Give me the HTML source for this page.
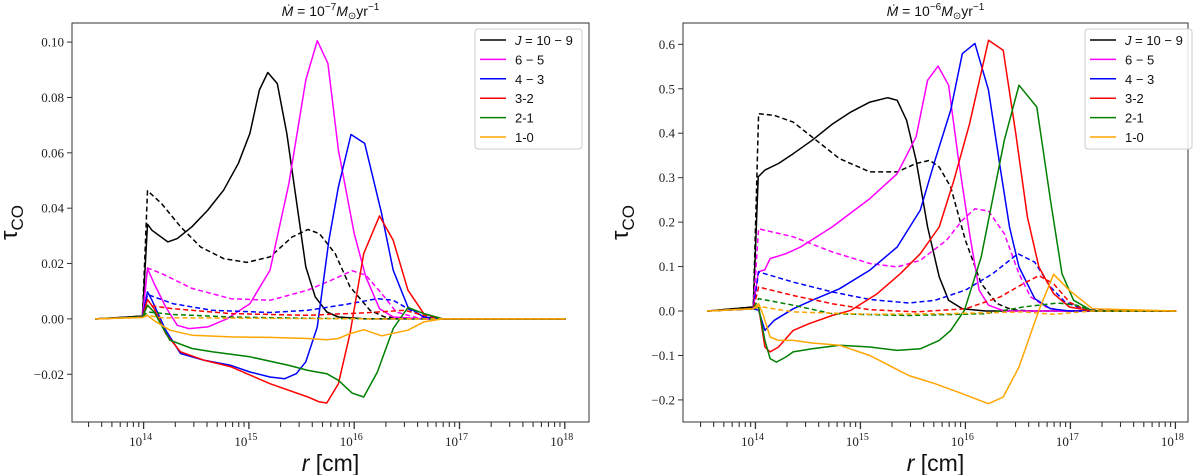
<!DOCTYPE html>
<html><head><meta charset="utf-8"><style>
html,body{margin:0;padding:0;background:#fff;}
svg{display:block;font-family:"Liberation Serif",serif;}
</style></head><body>
<svg id="fig" width="1200" height="475" viewBox="0 0 1200 475" xmlns="http://www.w3.org/2000/svg"></svg>
<script>
const seriesNames = ["J = 10-9","6-5","4-3","3-2","2-1","1-0"];
const colors = ["#000000","#ff00ff","#0000ff","#ff0000","#008000","#ffa500"];

const aBlackLogR = [13.54,13.99,14.037,14.08,14.23,14.32,14.46,14.61,14.76,14.90,15.01,15.10,15.18,15.27,15.36,15.45,15.54,15.63,15.74,15.85,16.11,18.01];
const aBlackTau  = [0,0.001,0.0342,0.032,0.0278,0.029,0.0333,0.0393,0.0465,0.0562,0.067,0.0827,0.089,0.085,0.067,0.0429,0.0188,0.008,0.0025,0.0007,0,0];
const aBlackDLogR = [13.54,13.99,14.037,14.17,14.35,14.54,14.76,14.98,15.20,15.41,15.56,15.67,15.82,15.96,16.15,16.29,16.66,18.01];
const aBlackDTau  = [0,0.001,0.0463,0.0417,0.0333,0.026,0.0218,0.0204,0.0224,0.0296,0.0323,0.0308,0.0236,0.0116,0.0031,0.0007,0,0];
const aMagLogR = [13.54,13.99,14.037,14.10,14.21,14.32,14.43,14.61,14.79,15.01,15.20,15.38,15.54,15.65,15.75,15.85,16.0,16.11,16.24,16.37,16.66,18.01];
const aMagTau  = [0,0.0007,0.0182,0.0128,0.0043,-0.0023,-0.0035,-0.0029,0,0.0055,0.0176,0.0489,0.0863,0.1005,0.0923,0.061,0.0308,0.0152,0.0037,0.0007,0,0];
const aMagDLogR = [13.54,13.99,14.037,14.17,14.46,14.83,15.20,15.56,15.82,15.98,16.11,16.26,16.40,16.59,16.84,18.01];
const aMagDTau  = [0,0.0007,0.0184,0.0164,0.011,0.0073,0.0067,0.0104,0.0146,0.0174,0.0158,0.0092,0.0025,0.0005,0,0];
const aBlueLogR = [13.54,13.99,14.037,14.08,14.21,14.35,14.57,14.83,15.01,15.20,15.34,15.45,15.54,15.65,15.76,15.85,15.97,16.10,16.26,16.37,16.51,16.66,16.84,18.01];
const aBlueTau  = [0,0.0007,0.0098,0.0067,-0.0041,-0.0125,-0.0149,-0.0168,-0.0192,-0.021,-0.0216,-0.0198,-0.0155,-0.0029,0.0284,0.0477,0.0666,0.0634,0.0381,0.0176,0.0043,0.0007,0,0];
const aBlueDLogR = [13.54,13.99,14.037,14.28,14.65,15.20,15.56,15.93,16.22,16.37,16.51,16.66,16.84,18.01];
const aBlueDTau  = [0,0.0007,0.0088,0.0055,0.0031,0.0023,0.0031,0.0053,0.0073,0.0067,0.0037,0.0007,0,0];
const aRedLogR = [13.54,13.99,14.037,14.10,14.21,14.35,14.57,14.83,15.20,15.56,15.67,15.74,15.85,15.96,16.09,16.24,16.37,16.51,16.66,16.84,18.01];
const aRedTau  = [0,0.0007,0.007,0.0037,-0.0053,-0.0119,-0.0149,-0.0173,-0.0234,-0.0282,-0.030,-0.0304,-0.0234,-0.0053,0.0236,0.0372,0.0284,0.0104,0.0019,0,0];
const aRedDLogR = [13.54,13.99,14.037,14.28,14.83,15.56,16.11,16.48,16.66,16.84,18.01];
const aRedDTau  = [0,0.0007,0.0049,0.0037,0.0019,0.0013,0.0022,0.0031,0.0013,0,0];
const aGreenLogR = [13.54,13.99,14.037,14.10,14.25,14.46,14.65,15.01,15.38,15.56,15.74,15.85,15.98,16.09,16.22,16.37,16.51,16.66,16.84,18.01];
const aGreenTau  = [0,0.0007,0.0049,0.0025,-0.0077,-0.0107,-0.0119,-0.0137,-0.0168,-0.0186,-0.0198,-0.0222,-0.0268,-0.0282,-0.0192,-0.0035,0.0041,0.0019,0,0];
const aGreenDLogR = [13.54,13.99,14.037,14.28,14.83,15.56,16.29,18.01];
const aGreenDTau  = [0,0.0007,0.0025,0.0016,0.0007,0.0002,0,0];
const aOrangeLogR = [13.54,13.99,14.037,14.10,14.25,14.46,14.83,15.20,15.56,15.74,15.85,15.96,16.09,16.26,16.51,16.66,16.84,18.01];
const aOrangeTau  = [0,0.0005,0.0013,-0.0006,-0.0041,-0.0059,-0.0065,-0.0067,-0.0071,-0.0075,-0.0071,-0.0053,-0.0039,-0.0061,-0.0041,-0.0011,0,0];
const aOrangeDLogR = [13.54,13.99,14.037,14.17,16.29,18.01];
const aOrangeDTau  = [0,0.0005,0.0013,0.0004,0,0];

const bBlackLogR = [13.54,13.98,14.026,14.09,14.22,14.36,14.54,14.73,14.91,15.09,15.26,15.35,15.44,15.53,15.64,15.75,15.84,15.97,16.19,18.01];
const bBlackTau  = [0,0.009,0.302,0.317,0.332,0.354,0.384,0.42,0.448,0.47,0.48,0.474,0.429,0.339,0.189,0.077,0.024,0.005,0,0];
const bBlackDLogR = [13.54,13.98,14.03,14.18,14.36,14.58,14.80,15.09,15.35,15.53,15.66,15.75,15.86,16.0,16.15,16.30,16.44,16.62,18.01];
const bBlackDTau  = [0,0.009,0.444,0.44,0.425,0.384,0.343,0.313,0.313,0.332,0.339,0.324,0.279,0.159,0.062,0.017,0.003,0,0];
const bMagLogR = [13.54,13.98,14.026,14.09,14.14,14.29,14.43,14.73,15.09,15.35,15.53,15.64,15.74,15.84,15.93,16.04,16.13,16.22,16.37,18.01];
const bMagTau  = [0,0.005,0.088,0.093,0.118,0.129,0.144,0.189,0.253,0.309,0.392,0.519,0.551,0.508,0.347,0.174,0.047,0.013,0,0];
const bMagDLogR = [13.54,13.98,14.03,14.36,14.73,15.09,15.35,15.57,15.82,15.97,16.09,16.22,16.37,16.51,16.62,16.77,16.92,18.01];
const bMagDTau  = [0,0.005,0.185,0.167,0.133,0.107,0.099,0.114,0.159,0.204,0.23,0.225,0.174,0.084,0.032,0.009,0,0];
const bBlueLogR = [13.54,13.98,14.03,14.09,14.18,14.36,14.54,14.80,15.09,15.35,15.57,15.71,15.86,15.97,16.09,16.22,16.33,16.42,16.51,16.66,16.81,16.99,18.01];
const bBlueTau  = [0,0.005,0.0015,-0.0435,-0.021,0.005,0.024,0.05,0.092,0.144,0.227,0.339,0.452,0.579,0.602,0.497,0.324,0.189,0.099,0.028,0.005,0,0];
const bBlueDLogR = [13.54,13.98,14.03,14.36,14.73,15.09,15.46,15.71,16.0,16.26,16.50,16.66,16.81,16.95,17.14,18.01];
const bBlueDTau  = [0,0.005,0.088,0.065,0.043,0.026,0.018,0.024,0.047,0.084,0.129,0.11,0.054,0.02,0.003,0];
const bRedLogR = [13.54,13.98,14.03,14.09,14.14,14.22,14.36,14.51,14.73,14.91,15.16,15.38,15.57,15.75,15.89,16.04,16.22,16.36,16.48,16.59,16.70,16.84,16.99,17.21,18.01];
const bRedTau  = [0,0.005,0.009,-0.081,-0.092,-0.081,-0.0435,-0.0285,-0.01,0.0015,0.039,0.084,0.129,0.189,0.294,0.4215,0.609,0.5865,0.399,0.2115,0.099,0.039,0.009,0,0];
const bRedDLogR = [13.54,13.98,14.03,14.36,14.73,15.09,15.53,16.0,16.33,16.55,16.70,16.84,16.99,17.17,18.01];
const bRedDTau  = [0,0.005,0.054,0.035,0.0165,0.003,-0.002,0.005,0.0315,0.0615,0.0795,0.0615,0.02,0,0];
const bGreenLogR = [13.54,13.98,14.03,14.09,14.14,14.20,14.29,14.36,14.54,14.80,15.09,15.35,15.57,15.75,15.86,15.99,16.15,16.37,16.51,16.68,16.81,16.92,17.03,17.21,18.01];
const bGreenTau  = [0,0.005,0.009,-0.066,-0.107,-0.115,-0.1035,-0.092,-0.085,-0.077,-0.081,-0.0885,-0.085,-0.066,-0.0435,0.0015,0.1215,0.384,0.508,0.459,0.249,0.084,0.024,0,0];
const bGreenDLogR = [13.54,13.98,14.03,14.36,14.73,15.46,16.19,16.55,16.88,17.06,17.21,18.01];
const bGreenDTau  = [0,0.005,0.028,0.013,-0.006,-0.01,-0.006,0.009,0.018,0.013,0,0];
const bOrangeLogR = [13.54,13.98,14.03,14.07,14.14,14.22,14.36,14.54,14.80,15.09,15.46,15.71,15.97,16.09,16.22,16.36,16.51,16.70,16.84,16.99,17.21,18.01];
const bOrangeTau  = [0,0.005,0.0165,-0.006,-0.0585,-0.066,-0.066,-0.072,-0.077,-0.1,-0.145,-0.1635,-0.186,-0.197,-0.2085,-0.1935,-0.126,0.0015,0.0825,0.0465,0.005,0];
const bOrangeDLogR = [13.54,13.98,14.03,14.36,15.09,15.82,16.55,16.84,17.10,17.21,18.01];
const bOrangeDTau  = [0,0.005,0.0105,-0.002,-0.0075,-0.006,-0.002,-0.0075,-0.002,0,0];

const aYTicks = [-0.02,0,0.02,0.04,0.06,0.08,0.10];
const aYLabels = ["\u22120.02","0.00","0.02","0.04","0.06","0.08","0.10"];
const bYTicks = [-0.2,-0.1,0,0.1,0.2,0.3,0.4,0.5,0.6];
const bYLabels = ["\u22120.2","\u22120.1","0.0","0.1","0.2","0.3","0.4","0.5","0.6"];
const xMajor = [14,15,16,17,18];

const NS = "http://www.w3.org/2000/svg";
const fig = document.getElementById('fig');
function mk(tag, attrs, parent){
  const e = document.createElementNS(NS, tag);
  for (const k in attrs) e.setAttribute(k, attrs[k]);
  (parent||fig).appendChild(e);
  return e;
}

function panel(p){
  const g = mk('g', {});
  
  
  const X = v => p.x0 + (v - p.xmin) / (p.xmax - p.xmin) * (p.x1 - p.x0);
  const Y = v => p.y1 - (v - p.ymin) / (p.ymax - p.ymin) * (p.y1 - p.y0);
  p.series.forEach((s, i) => {
    const d = s.logr.map((lr, j) => (j ? 'L' : 'M') + X(lr).toFixed(1) + ',' + Y(s.tau[j]).toFixed(1)).join(' ');
    const path = mk('path', {d: d, fill: 'none', stroke: s.color, 'stroke-width': 1.5, 'stroke-linejoin': 'round'}, g);
    if (s.dash) path.setAttribute('stroke-dasharray', '5,3');
    
    
  });
  const fr = mk('rect', {x: p.x0, y: p.y0, width: p.x1 - p.x0, height: p.y1 - p.y0, fill: 'none', stroke: '#333', 'stroke-width': 1}, g);
  
  
  p.yTicks.forEach((v, i) => {
    const y = Y(v);
    mk('line', {x1: p.x0 - 5, x2: p.x0, y1: y, y2: y, stroke: '#333'}, g);
    const t = mk('text', {x: p.x0 - 8, y: y + 4.5, 'text-anchor': 'end', 'font-size': 13, fill: '#222'}, g);
    t.textContent = p.yLabels[i];
    
    
  });
  for (let dec = 13; dec <= 18; dec++) {
    for (let k = 1; k <= 9; k++) {
      const lv = dec + Math.log10(k);
      if (lv < p.xmin || lv > p.xmax) continue;
      const x = X(lv);
      mk('line', {x1: x, x2: x, y1: p.y1, y2: p.y1 + (k === 1 ? 7 : 5), stroke: '#333', 'stroke-width': k === 1 ? 1.3 : 1.1}, g);
    }
  }
  xMajor.forEach(v => {
    const t = mk('text', {x: X(v) - 3, y: p.y1 + 24, 'text-anchor': 'middle', 'font-size': 13, fill: '#222'}, g);
    
    
    t.textContent = '10';
    const s = mk('tspan', {dy: -6, 'font-size': 10}, t);
    s.textContent = String(v);
  });
  const xl = mk('text', {x: (p.x0 + p.x1) / 2, y: p.y1 + 49, 'text-anchor': 'middle', 'font-size': 23, 'font-family': 'Liberation Sans, sans-serif', fill: '#111'}, g);
  
  
  const xi = mk('tspan', {'font-style': 'italic'}, xl); xi.textContent = 'r ';
  const xr = mk('tspan', {}, xl); xr.textContent = '[cm]';
  const yl = mk('text', {x: 0, y: 0, 'text-anchor': 'middle', 'font-size': 24, 'font-family': 'Liberation Sans, sans-serif', fill: '#111', transform: 'translate(' + (p.x0 - 55) + ',' + ((p.y0 + p.y1) / 2) + ') rotate(-90)'}, g);
  
  
  yl.textContent = '\u03c4';
  const ys = mk('tspan', {dy: 6, 'font-size': 17}, yl); ys.textContent = 'CO';
  const tt = mk('text', {x: (p.x0 + p.x1) / 2, y: 16, 'text-anchor': 'middle', 'font-size': 14, 'font-family': 'Liberation Sans, sans-serif', fill: '#111'}, g);
  
  
  const m1 = mk('tspan', {'font-style': 'italic'}, tt); m1.textContent = 'M\u0307';
  const m2 = mk('tspan', {}, tt); m2.textContent = ' = 10';
  const m3 = mk('tspan', {dy: -6, 'font-size': 10}, tt); m3.textContent = p.exp;
  const m4 = mk('tspan', {dy: 6, 'font-style': 'italic'}, tt); m4.textContent = 'M';
  const m5 = mk('tspan', {dy: 3, 'font-size': 10}, tt); m5.textContent = '\u2299';
  const m6 = mk('tspan', {dy: -3}, tt); m6.textContent = 'yr';
  const m7 = mk('tspan', {dy: -6, 'font-size': 10}, tt); m7.textContent = '\u22121';
  const lg = mk('g', {}, g);
  
  
  mk('rect', {x: p.lx, y: 29, width: p.lw, height: 120, rx: 3, fill: '#fff', 'fill-opacity': 0.85, stroke: '#ccc'}, lg);
  seriesNames.forEach((n, i) => {
    const y = 40 + i * 19.4;
    const e = mk('g', {}, lg);
    
    
    mk('line', {x1: p.lx + 5, x2: p.lx + 31, y1: y, y2: y, stroke: colors[i], 'stroke-width': 1.5}, e);
    const t = mk('text', {x: p.lx + 40, y: y + 5, 'font-size': 13, 'font-family': 'Liberation Sans, sans-serif', fill: '#111'}, e);
    if (i === 0) { const a = mk('tspan', {'font-style': 'italic'}, t); a.textContent = 'J'; const b = mk('tspan', {}, t); b.textContent = ' = 10 \u2212 9'; }
    else if (i < 3) t.textContent = n.replace('-', ' \u2212 ');
    else t.textContent = n;
  });
}

const aSeries = [
  {name:'j10-9-solid', color:colors[0], logr:aBlackLogR, tau:aBlackTau},
  {name:'j10-9-dashed', color:colors[0], logr:aBlackDLogR, tau:aBlackDTau, dash:true},
  {name:'j6-5-solid', color:colors[1], logr:aMagLogR, tau:aMagTau},
  {name:'j6-5-dashed', color:colors[1], logr:aMagDLogR, tau:aMagDTau, dash:true},
  {name:'j4-3-solid', color:colors[2], logr:aBlueLogR, tau:aBlueTau},
  {name:'j4-3-dashed', color:colors[2], logr:aBlueDLogR, tau:aBlueDTau, dash:true},
  {name:'j3-2-solid', color:colors[3], logr:aRedLogR, tau:aRedTau},
  {name:'j3-2-dashed', color:colors[3], logr:aRedDLogR, tau:aRedDTau, dash:true},
  {name:'j2-1-solid', color:colors[4], logr:aGreenLogR, tau:aGreenTau},
  {name:'j2-1-dashed', color:colors[4], logr:aGreenDLogR, tau:aGreenDTau, dash:true},
  {name:'j1-0-solid', color:colors[5], logr:aOrangeLogR, tau:aOrangeTau},
  {name:'j1-0-dashed', color:colors[5], logr:aOrangeDLogR, tau:aOrangeDTau, dash:true}
];
const bSeries = [
  {name:'j10-9-solid', color:colors[0], logr:bBlackLogR, tau:bBlackTau},
  {name:'j10-9-dashed', color:colors[0], logr:bBlackDLogR, tau:bBlackDTau, dash:true},
  {name:'j6-5-solid', color:colors[1], logr:bMagLogR, tau:bMagTau},
  {name:'j6-5-dashed', color:colors[1], logr:bMagDLogR, tau:bMagDTau, dash:true},
  {name:'j4-3-solid', color:colors[2], logr:bBlueLogR, tau:bBlueTau},
  {name:'j4-3-dashed', color:colors[2], logr:bBlueDLogR, tau:bBlueDTau, dash:true},
  {name:'j3-2-solid', color:colors[3], logr:bRedLogR, tau:bRedTau},
  {name:'j3-2-dashed', color:colors[3], logr:bRedDLogR, tau:bRedDTau, dash:true},
  {name:'j2-1-solid', color:colors[4], logr:bGreenLogR, tau:bGreenTau},
  {name:'j2-1-dashed', color:colors[4], logr:bGreenDLogR, tau:bGreenDTau, dash:true},
  {name:'j1-0-solid', color:colors[5], logr:bOrangeLogR, tau:bOrangeTau},
  {name:'j1-0-dashed', color:colors[5], logr:bOrangeDLogR, tau:bOrangeDTau, dash:true}
];

panel({id:'left', x0:72, x1:589, y0:23, y1:422, xmin:13.32, xmax:18.23, ymin:-0.03725, ymax:0.1069,
  yTicks:aYTicks, yLabels:aYLabels, series:aSeries, exp:'\u22127', lx:475, lw:107});
panel({id:'right', x0:683, x1:1188, y0:23, y1:422, xmin:13.31, xmax:18.12, ymin:-0.2497, ymax:0.648,
  yTicks:bYTicks, yLabels:bYLabels, series:bSeries, exp:'\u22126', lx:1085, lw:107});
</script>
</body></html>
